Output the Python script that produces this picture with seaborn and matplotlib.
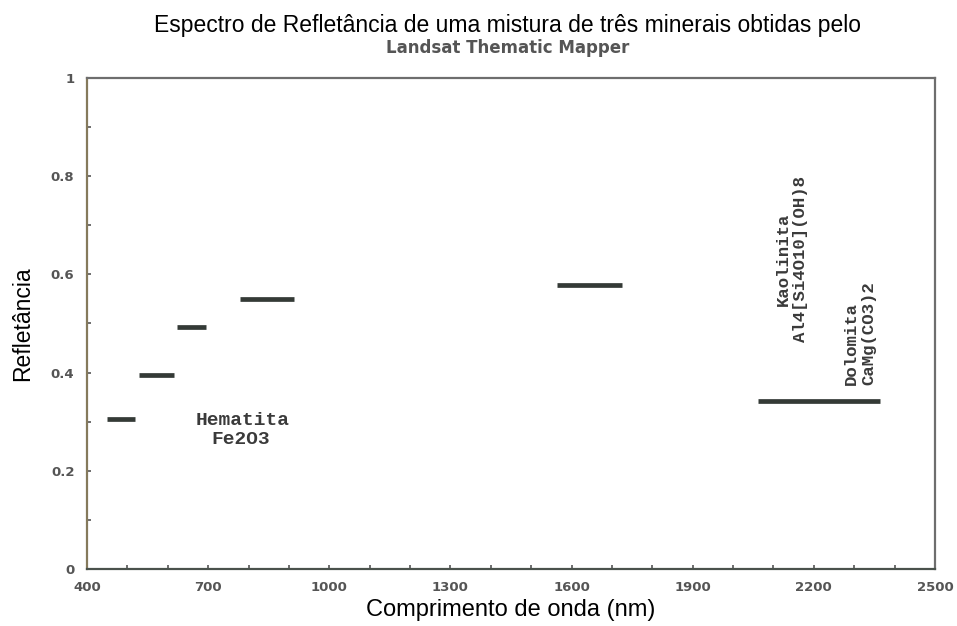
import matplotlib
matplotlib.use("Agg")
import matplotlib.pyplot as plt
from matplotlib.ticker import MultipleLocator
import seaborn as sns
import pandas as pd

# Landsat TM bands (nm) and reflectance of the mixture
band_names = ["B1", "B2", "B3", "B4", "B5", "B7"]
band_start = [450, 530, 622, 780, 1565, 2062]
band_end = [520, 615, 695, 913, 1725, 2364]
reflectance = [0.305, 0.395, 0.493, 0.550, 0.578, 0.342]

x_ticks = [400, 700, 1000, 1300, 1600, 1900, 2200, 2500]
y_ticks = [0, 0.2, 0.4, 0.6, 0.8, 1]
y_tick_labels = ["0", "0.2", "0.4", "0.6", "0.8", "1"]

rows = []
for n, s, e, r in zip(band_names, band_start, band_end, reflectance):
    rows.append({"band": n, "wl": s, "refl": r})
    rows.append({"band": n, "wl": e, "refl": r})
df = pd.DataFrame(rows)

sns.set_style("white")
plt.rcParams["font.family"] = ["Liberation Sans", "DejaVu Sans"]

fig = plt.figure(figsize=(9.57, 6.26), dpi=100)
ax = fig.add_axes([0.0909, 0.0911, 0.8861, 0.7843])

sns.lineplot(data=df, x="wl", y="refl", units="band", estimator=None,
             sort=False, color="#343a36", linewidth=3.4, ax=ax,
             solid_capstyle="butt", legend=False)

ax.set_xlim(400, 2500)
ax.set_ylim(0, 1)
ax.set_xticks(x_ticks)
ax.set_xticklabels([str(v) for v in x_ticks])
ax.set_yticks(y_ticks)
ax.set_yticklabels(y_tick_labels)
ax.xaxis.set_minor_locator(MultipleLocator(100))
ax.yaxis.set_minor_locator(MultipleLocator(0.1))
ax.tick_params(which="both", direction="in", length=3, width=1.2, color="#555555",
               bottom=True, left=True, top=False, right=False)
ax.tick_params(which="major", labelsize=9.5, labelcolor="#555555", pad=9)
for lab in ax.get_xticklabels() + ax.get_yticklabels():
    lab.set_fontweight("bold")
    lab.set_family(["DejaVu Sans"])

for side, sp in ax.spines.items():
    sp.set_visible(True)
    sp.set_linewidth(1.6)
    sp.set_color("#6e6e6e")
ax.spines["left"].set_color("#857a5c")
ax.spines["bottom"].set_color("#4a524c")

ax.set_xlabel("Comprimento de onda (nm)", fontsize=17, color="black", labelpad=3)
ax.set_ylabel("Refletância", fontsize=16.5, color="black", labelpad=12)

fig.text(0.530, 0.960, "Espectro de Refletância de uma mistura de três minerais obtidas pelo",
         ha="center", va="center", fontsize=16.5, color="black")
fig.text(0.530, 0.924, "Landsat Thematic Mapper", ha="center", va="center",
         fontsize=12, fontweight="bold", color="#555555", family=["DejaVu Sans"])

mono = ["Liberation Mono", "DejaVu Sans Mono"]
ax.text(786, 0.303, "Hematita", family=mono, fontweight="bold", fontsize=14,
        color="#3a3a3a", ha="center", va="center")
ax.text(780, 0.264, "Fe2O3", family=mono, fontweight="bold", fontsize=14,
        color="#3a3a3a", ha="center", va="center")
ax.text(2146, 0.631, "Kaolinita\nAl4[Si4O10](OH)8", family=mono, fontweight="bold",
        fontsize=12.5, color="#3a3a3a", rotation=90, ha="center", va="center",
        multialignment="center", linespacing=1.2)
ax.text(2314, 0.375, "Dolomita\nCaMg(CO3)2", family=mono, fontweight="bold",
        fontsize=12.5, color="#3a3a3a", rotation=90, ha="center", va="bottom",
        multialignment="left", linespacing=1.2)

fig.savefig("out.png", dpi=100)
